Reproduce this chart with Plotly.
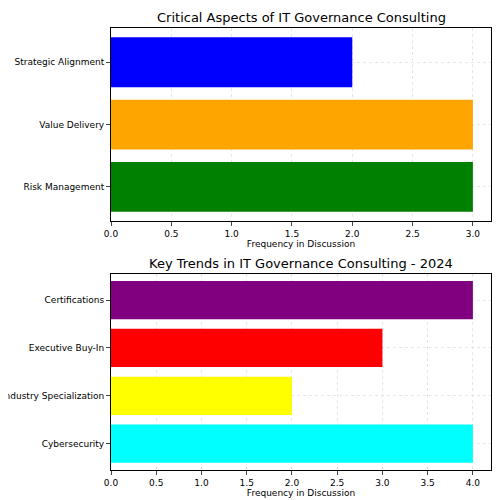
import plotly.graph_objects as go
from plotly.subplots import make_subplots

aspects = ["Risk Management", "Value Delivery", "Strategic Alignment"]
aspect_freq = [3, 3, 2]
aspect_colors = ["green", "orange", "blue"]

trends = ["Cybersecurity", "Industry Specialization", "Executive Buy-In", "Certifications"]
trend_freq = [4, 2, 3, 4]
trend_colors = ["cyan", "yellow", "red", "purple"]

fig = make_subplots(rows=2, cols=1)
fig.add_trace(go.Bar(y=aspects, x=aspect_freq, orientation="h",
                     marker_color=aspect_colors, marker_line_width=0, width=0.8), row=1, col=1)
fig.add_trace(go.Bar(y=trends, x=trend_freq, orientation="h",
                     marker_color=trend_colors, marker_line_width=0, width=0.8), row=2, col=1)

axis_style = dict(showline=True, linecolor="black", linewidth=1, mirror=True,
                  showgrid=True, gridcolor="#e6e6e6", griddash="dot", gridwidth=1,
                  ticks="outside", ticklen=4, zeroline=False,
                  tickfont=dict(size=9, color="black"))
fig.update_xaxes(**axis_style)
fig.update_yaxes(**axis_style, automargin=False)
fig.update_xaxes(range=[0, 3.15], dtick=0.5, tickformat=".1f", row=1, col=1,
                 title=dict(text="Frequency in Discussion", font=dict(size=9), standoff=2))
fig.update_xaxes(range=[0, 4.2], dtick=0.5, tickformat=".1f", row=2, col=1,
                 title=dict(text="Frequency in Discussion", font=dict(size=9), standoff=2))
fig.update_yaxes(range=[-0.55, 2.55], row=1, col=1)
fig.update_yaxes(range=[-0.55, 3.55], row=2, col=1)

fig.update_layout(
    width=500, height=500, showlegend=False,
    plot_bgcolor="white", paper_bgcolor="white",
    font=dict(family="DejaVu Sans", color="black"),
    margin=dict(l=103, r=17, t=20, b=18),
    xaxis=dict(domain=[0, 1]), yaxis=dict(domain=[0.563, 1]),
    xaxis2=dict(domain=[0, 1]), yaxis2=dict(domain=[0, 0.444]),
    annotations=[
        dict(text="Critical Aspects of IT Governance Consulting", x=0.5, y=1,
             xref="paper", yref="paper", yanchor="bottom", showarrow=False,
             font=dict(size=13), yshift=1),
        dict(text="Key Trends in IT Governance Consulting - 2024", x=0.5, y=0.444,
             xref="paper", yref="paper", yanchor="bottom", showarrow=False,
             font=dict(size=13), yshift=1),
    ],
)
fig.write_html("out.html")
